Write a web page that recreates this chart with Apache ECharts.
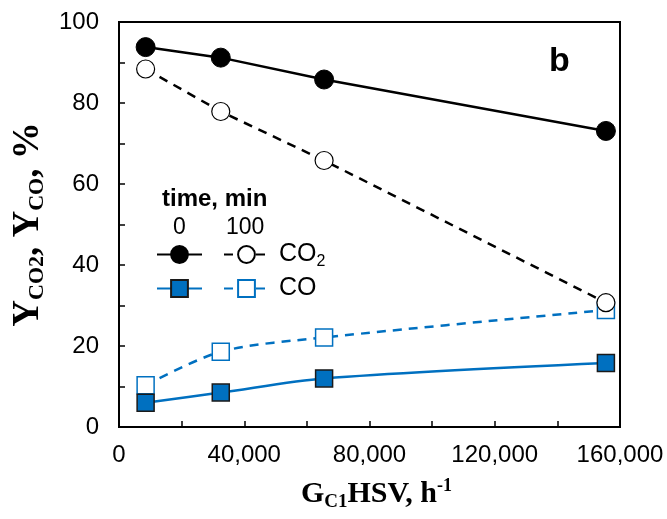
<!DOCTYPE html>
<html>
<head>
<meta charset="utf-8">
<script src="https://cdn.jsdelivr.net/npm/echarts@6/dist/echarts.min.js"></script>
<style>
  html, body { margin: 0; padding: 0; background: #fff; }
  #echarts { width: 667px; height: 519px; }
</style>
</head>
<body>
<div id="echarts"></div>
<script>
// 数据
var ghsv = [8500, 32500, 65500, 155500];
var co2_t0 = [93.8, 91.2, 85.8, 73.1];
var co2_t100 = [88.4, 77.9, 65.8, 30.7];
var co_t0 = [6.0, 8.5, 12.0, 15.8];
var co_t100 = [10.3, 18.6, 22.1, 28.9];

var BLUE = "#0070C0";
var SANS = "Liberation Sans, Arial";
var SERIF = "Liberation Serif, Times New Roman";

function pairs(xs, ys) {
  return xs.map(function (x, i) { return [x, ys[i]]; });
}

// 图例 (one item per legend so it can be placed in the 2x2 grid)
function legendItem(name, left, top, withText) {
  return {
    data: [name],
    left: left,
    top: top,
    padding: 0,
    itemWidth: 45,
    itemHeight: 21,
    selectedMode: false,
    formatter: function (n) {
      if (!withText) return "";
      return n === "CO2 100" ? "CO{s|2}" : "CO";
    },
    textStyle: {
      fontFamily: SANS,
      fontSize: 25,
      color: "#000",
      padding: [0, 0, 0, 5],
      rich: {
        s: { fontFamily: SANS, fontSize: 16, verticalAlign: "bottom", padding: [14, 0, 0, 0] },
      },
    },
  };
}

var chartDom = document.getElementById("echarts");
var myChart = echarts.init(chartDom);
var option;

var tickLine = { color: "#000", width: 1.5 };

option = {
  animation: false,
  grid: {
    left: 119,
    right: 47,
    top: 22,
    bottom: 92,
    show: true,
    borderColor: "#000",
    borderWidth: 2,
  },
  legend: [
    legendItem("CO2 0", 156, 244, false),
    legendItem("CO 0", 156, 278, false),
    legendItem("CO2 100", 223, 242, true),
    legendItem("CO 100", 223, 276, true),
  ],
  xAxis: {
    type: "value",
    min: 0,
    max: 160000,
    interval: 40000,
    name: "{b|G}{s|C1}{b|HSV, h}{p|-1}",
    nameLocation: "middle",
    nameGap: 50,
    nameTextStyle: {
      padding: [0, 0, 0, 14],
      rich: {
        b: { fontFamily: SERIF, fontWeight: "bold", fontSize: 30, color: "#000" },
        s: { fontFamily: SERIF, fontWeight: "bold", fontSize: 19, color: "#000", verticalAlign: "bottom", padding: [16, 0, 0, 0] },
        p: { fontFamily: SERIF, fontWeight: "bold", fontSize: 18, color: "#000", verticalAlign: "top", padding: [0, 0, 13, 0] },
      },
    },
    axisLine: { lineStyle: { color: "#000", width: 2 } },
    axisTick: { inside: true, length: 6, lineStyle: tickLine },
    minorTick: { show: true, splitNumber: 2, length: 6, lineStyle: tickLine },
    splitLine: { show: false },
    axisLabel: {
      margin: 16,
      fontFamily: SANS,
      fontSize: 24,
      color: "#000",
      formatter: function (v) { return v.toLocaleString("en-US"); },
    },
  },
  yAxis: {
    type: "value",
    min: 0,
    max: 100,
    interval: 20,
    name: "{b|Y}{s|CO2}{b|, Y}{s|CO}{b|, %}",
    nameLocation: "middle",
    nameGap: 70,
    nameRotate: 90,
    nameTextStyle: {
      rich: {
        b: { fontFamily: SERIF, fontWeight: "bold", fontSize: 37, color: "#000" },
        s: { fontFamily: SERIF, fontWeight: "bold", fontSize: 22, color: "#000", verticalAlign: "bottom", padding: [18, 0, 0, 0] },
      },
    },
    axisLine: { lineStyle: { color: "#000", width: 2 } },
    axisTick: { inside: true, length: 6, lineStyle: tickLine },
    minorTick: { show: true, splitNumber: 2, length: 6, lineStyle: tickLine },
    splitLine: { show: false },
    axisLabel: { margin: 20, fontFamily: SANS, fontSize: 24, color: "#000" },
  },
  graphic: [
    {
      type: "text",
      left: 549,
      top: 45,
      style: { text: "b", font: "bold 34px " + SANS, fill: "#000" },
    },
    {
      type: "text",
      left: 162,
      top: 187,
      style: { text: "time, min", font: "bold 24px " + SANS, fill: "#000" },
    },
    {
      type: "text",
      left: 173,
      top: 216,
      style: { text: "0", font: "23px " + SANS, fill: "#000" },
    },
    {
      type: "text",
      left: 226,
      top: 216,
      style: { text: "100", font: "23px " + SANS, fill: "#000" },
    },
  ],
  series: [
    {
      name: "CO 100",
      type: "line",
      smooth: 0.3,
      data: pairs(ghsv, co_t100),
      symbol: "rect",
      symbolSize: 17,
      itemStyle: { color: "#fff", borderColor: BLUE, borderWidth: 1.5 },
      lineStyle: { color: BLUE, width: 2.5, type: [9, 7] },
      z: 2,
    },
    {
      name: "CO 0",
      type: "line",
      smooth: 0.3,
      data: pairs(ghsv, co_t0),
      symbol: "rect",
      symbolSize: 17,
      itemStyle: { color: BLUE, borderColor: "#1a1a1a", borderWidth: 1.5 },
      lineStyle: { color: BLUE, width: 2.5 },
      z: 3,
    },
    {
      name: "CO2 100",
      type: "line",
      data: pairs(ghsv, co2_t100),
      symbol: "circle",
      symbolSize: 18,
      itemStyle: { color: "#fff", borderColor: "#000", borderWidth: 1.2 },
      lineStyle: { color: "#000", width: 2.5, type: [9, 7] },
      z: 2,
    },
    {
      name: "CO2 0",
      type: "line",
      data: pairs(ghsv, co2_t0),
      symbol: "circle",
      symbolSize: 19,
      itemStyle: { color: "#000", borderColor: "#000", borderWidth: 1 },
      lineStyle: { color: "#000", width: 2.5 },
      z: 3,
    },
  ],
};

option && myChart.setOption(option);
</script>
</body>
</html>
